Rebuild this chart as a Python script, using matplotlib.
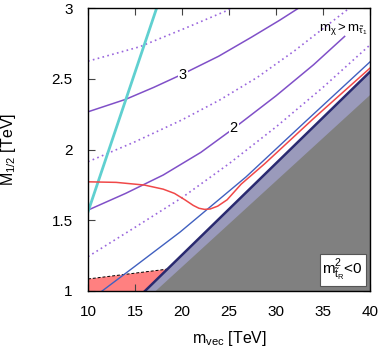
import numpy as np
import matplotlib
matplotlib.use("Agg")
import matplotlib.pyplot as plt

plt.rcParams['font.family'] = ['Liberation Sans', 'DejaVu Sans']
plt.rcParams['mathtext.fontset'] = 'custom'
plt.rcParams['mathtext.rm'] = 'Liberation Sans'
plt.rcParams['mathtext.it'] = 'Liberation Sans'
plt.rcParams['mathtext.default'] = 'regular'

# contour lines of M_1/2 vs m_vec
m_c35 = [10, 15.5, 20.3, 24.9, 25.2]
M_c35 = [2.625, 2.727, 2.857, 2.986, 3.0]

m_c30 = [10, 14, 17, 20.1, 23.9, 27.4, 30.4, 32.4]
M_c30 = [2.267, 2.355, 2.44, 2.535, 2.66, 2.795, 2.915, 3.0]

m_c25 = [10, 15, 20, 24, 28, 32, 37.8]
M_c25 = [1.914, 2.055, 2.21, 2.35, 2.51, 2.70, 3.0]

m_c20 = [10, 14, 18, 22, 25.5, 30, 34, 37.3]
M_c20 = [1.572, 1.69, 1.82, 1.98, 2.15, 2.38, 2.60, 2.80]

m_c15 = [10, 15, 20, 25, 30, 35, 40]
M_c15 = [1.243, 1.45, 1.66, 1.90, 2.16, 2.44, 2.74]

m_cyan = [10, 17.3]
M_cyan = [1.56, 3.0]

m_blue = [11.5, 15, 19.8, 26.8, 33, 40]
M_blue = [1.0, 1.175, 1.417, 1.806, 2.19, 2.62]

m_red = [10, 13, 16, 18, 19.2, 20.3, 21.2, 21.8, 22.4, 23.0, 23.8, 24.8, 26.3, 28.8, 34, 40]
M_red = [1.772, 1.768, 1.749, 1.72, 1.69, 1.645, 1.605, 1.585, 1.577, 1.58, 1.60, 1.645, 1.756, 1.90, 2.22, 2.576]

# excluded regions
m_redfill = [10, 10, 18.5, 16.06]
M_redfill = [1.0, 1.085, 1.155, 1.0]
m_band = [16.06, 40]
M_band = [1.0, 2.55]
m_gray = [17.2, 40]
M_gray = [1.0, 2.385]

xticks = [10, 15, 20, 25, 30, 35, 40]
yticks = [1, 1.5, 2, 2.5, 3]
yticklabels = ['1', '1.5', '2', '2.5', '3']

purple = '#8050c8'
dotpurple = '#9a66dd'

fig = plt.figure(figsize=(3.82, 3.54), dpi=100)
ax = fig.add_axes([0.2304, 0.178, 0.7382, 0.799])

ax.fill(m_redfill, M_redfill, color='#ff8080', lw=0, zorder=1)
ax.plot(m_redfill[1:3], M_redfill[1:3], color='k', lw=0.7, ls=(0, (3, 2)), zorder=2)

for mm, MM in [(m_c35, M_c35), (m_c25, M_c25), (m_c15, M_c15)]:
    ax.plot(mm, MM, color=dotpurple, lw=1.2, ls=(0, (1, 2)), zorder=3)
for mm, MM in [(m_c30, M_c30), (m_c20, M_c20)]:
    ax.plot(mm, MM, color=purple, lw=1.1, zorder=3)

ax.text(20.1, 2.53, '3', fontsize=10.5, ha='center', va='center', zorder=4,
        bbox=dict(fc='white', ec='none', pad=0.5))
ax.text(25.5, 2.15, '2', fontsize=10.5, ha='center', va='center', zorder=4,
        bbox=dict(fc='white', ec='none', pad=0.5))

ax.plot(m_cyan, M_cyan, color='#60d0d0', lw=2, zorder=3)
ax.plot(m_blue, M_blue, color='#4060c0', lw=1, zorder=3)
ax.plot(m_red, M_red, color='#f04848', lw=1.1, zorder=3)

# band and tachyonic region
ax.fill([m_band[0], m_band[1], 40], [M_band[0], M_band[1], 1.0], color='#9a9abb', lw=0, zorder=5)
ax.plot(m_band, M_band, color='#2a2a70', lw=1.8, zorder=6)
ax.fill([m_gray[0], m_gray[1], 40], [M_gray[0], M_gray[1], 1.0], color='#808080', lw=0, zorder=6)

ax.text(37.2, 2.85, r'$m_{\chi} > m_{\tilde{\tau}_1}$', fontsize=9.5, ha='center', va='center', zorder=7)
ax.text(37.1, 1.15, r'$m^2_{\tilde{t}_R}$<0', fontsize=11, ha='center', va='center', zorder=7,
        bbox=dict(fc='white', ec='#555555', lw=0.8, pad=2))

ax.set_xlim(10, 40)
ax.set_ylim(1, 3)
ax.set_xticks(xticks)
ax.set_yticks(yticks)
ax.set_yticklabels(yticklabels)
ax.tick_params(direction='in', top=True, right=True, length=5, width=0.8,
               labelsize=11, color='#444444')
ax.tick_params(axis='x', pad=10)
ax.tick_params(axis='y', pad=11)
for sp in ax.spines.values():
    sp.set_linewidth(1)
    sp.set_zorder(8)

ax.set_xlabel(r'$m_{vec}$ [TeV]', fontsize=11.5)
ax.set_ylabel(r'$M_{1/2}$ [TeV]', fontsize=11.5)
ax.xaxis.set_label_coords(0.5, -0.135)
ax.yaxis.set_label_coords(-0.25, 0.5)

fig.savefig('out.png', dpi=100)
